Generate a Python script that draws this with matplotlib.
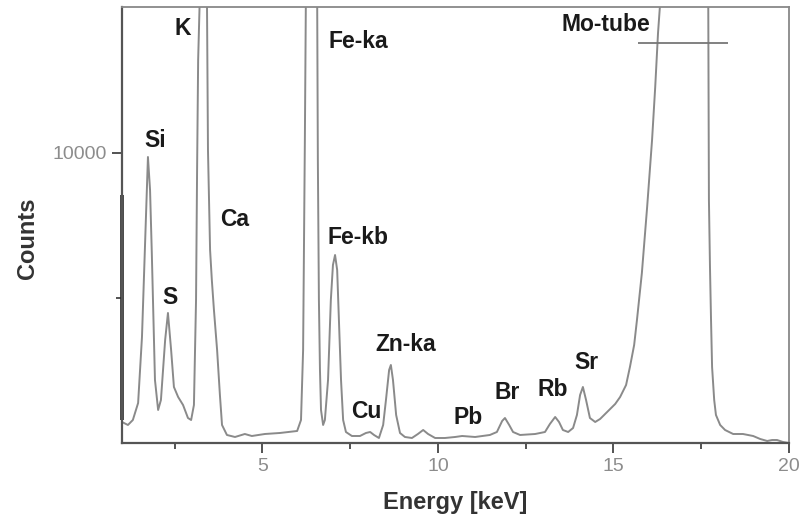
import matplotlib.pyplot as plt
import matplotlib.transforms as mtransforms

plt.rcParams['font.family'] = ['Liberation Sans', 'DejaVu Sans']

# spectrum trace (energy in keV, counts)
energy = [1.00, 1.17, 1.31, 1.46, 1.57, 1.66, 1.74, 1.80, 1.85, 1.94, 2.03,
          2.11, 2.23, 2.31, 2.40, 2.48, 2.60, 2.74, 2.88, 2.97, 3.05, 3.11,
          3.14, 3.17, 3.22, 3.31, 3.42, 3.45, 3.51, 3.56, 3.62, 3.71, 3.79,
          3.85, 3.99, 4.22, 4.50, 4.70, 5.07, 5.50, 5.99, 6.10, 6.16, 6.19,
          6.21, 6.24, 6.40, 6.56, 6.58, 6.61, 6.64, 6.67, 6.73, 6.78, 6.87,
          6.95, 7.01, 7.07, 7.13, 7.18, 7.24, 7.30, 7.38, 7.55, 7.78, 7.95,
          8.07, 8.18, 8.32, 8.44, 8.52, 8.61, 8.66, 8.72, 8.81, 8.92, 9.06,
          9.26, 9.43, 9.58, 9.72, 9.92, 10.20, 10.49, 10.69, 11.06, 11.48,
          11.68, 11.83, 11.91, 12.03, 12.14, 12.34, 12.77, 13.05, 13.19,
          13.34, 13.45, 13.56, 13.71, 13.85, 13.96, 14.05, 14.13, 14.22,
          14.33, 14.48, 14.62, 14.82, 15.05, 15.19, 15.36, 15.47, 15.59,
          15.67, 15.81, 15.96, 16.10, 16.19, 16.27, 16.35, 17.03, 17.70,
          17.72, 17.75, 17.78, 17.81, 17.87, 17.92, 18.04, 18.18, 18.41,
          18.69, 18.98, 19.18, 19.38, 19.52, 19.66, 19.83, 20.00]
counts = [724, 621, 793, 1379, 3655, 7000, 9862, 8724, 6552, 2172, 1138,
          1483, 3552, 4483, 3207, 1931, 1586, 1310, 862, 793, 1310, 4931,
          9414, 13207, 15500, 40000, 15500, 10103, 6655, 5621, 4586, 3207, 1655,
          621, 276, 207, 310, 241, 310, 345, 414, 793, 3207, 7345,
          10448, 15500, 60000, 15500, 9759, 4931, 2517, 1138, 621, 793, 2172,
          4931, 6138, 6483, 5966, 4241, 2172, 793, 379, 241, 241, 345,
          379, 276, 172, 621, 1483, 2517, 2690, 2172, 966, 345, 207,
          172, 310, 448, 310, 172, 172, 207, 241, 207, 276,
          379, 759, 862, 621, 379, 276, 310, 379, 655,
          897, 724, 448, 379, 517, 966, 1655, 1931, 1483,
          862, 724, 828, 1069, 1345, 1586, 2000, 2621, 3379,
          4241, 5862, 8138, 10448, 12276, 14138, 15500, 60000, 15500,
          8379, 6069, 4241, 2621, 1483, 966, 621, 448, 310,
          310, 241, 138, 69, 103, 103, 34, 0]

peak_names = ['Si', 'K', 'S', 'Ca', 'Fe-ka', 'Fe-kb', 'Zn-ka', 'Cu', 'Pb',
              'Br', 'Rb', 'Sr', 'Mo-tube']
peak_x = [1.94, 2.74, 2.37, 4.22, 7.72, 7.72, 9.09, 7.95, 10.86, 11.97,
          13.28, 14.22, 14.79]
peak_y = [10448, 14310, 5034, 7690, 13828, 7069, 3379, 1103, 862, 1724,
          1828, 2759, 14414]

# Mo-tube marker bar
mo_level = 13793
mo_from, mo_to = 15.70, 18.26

fig = plt.figure(figsize=(8.04, 5.16), dpi=100)
ax = fig.add_axes([0.1517, 0.1415, 0.8296, 0.8449])

ax.plot(energy, counts, color='#8a8a8a', lw=1.4)
ax.hlines(mo_level, mo_from, mo_to, color='#777777', lw=1.3)

for name, x, y in zip(peak_names, peak_x, peak_y):
    ax.text(x, y, name, ha='center', va='center', fontsize=16.5,
            fontweight='bold', color='#1a1a1a')

ax.set_xlim(1, 20)
ax.set_ylim(0, 15034)
ax.set_xticks([5, 10, 15, 20])
ax.set_xticks([2.5, 7.5, 12.5, 17.5], minor=True)
ax.set_yticks([10000])
ax.set_yticks([5000], minor=True)

ax.tick_params(which='major', length=7, width=1.3, color='#444444',
               labelsize=14, labelcolor='#8c8c8c', pad=4)
ax.tick_params(which='minor', length=4, width=1.3, color='#444444')

for side in ['top', 'right']:
    ax.spines[side].set_color('#888888')
    ax.spines[side].set_linewidth(1.3)
for side in ['left', 'bottom']:
    ax.spines[side].set_color('#555555')
    ax.spines[side].set_linewidth(1.6)

# darker stretch of the left axis seen in the scan
trans = mtransforms.blended_transform_factory(ax.transAxes, ax.transData)
ax.plot([0, 0], [793, 8550], transform=trans, color='#222222', lw=2.6,
        clip_on=False, solid_capstyle='butt')

ax.set_xlabel('Energy [keV]', fontsize=17, fontweight='bold', color='#333333',
              labelpad=11)
ax.set_ylabel('Counts', fontsize=17, fontweight='bold', color='#333333',
              labelpad=14)
ax.yaxis.set_label_coords(-0.125, 0.47)

fig.savefig('out.png', dpi=100)
